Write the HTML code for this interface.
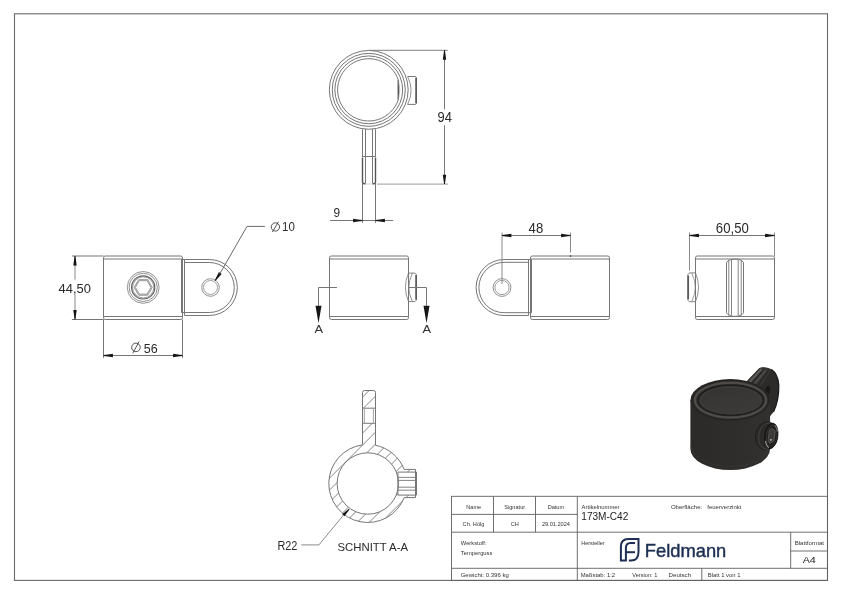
<!DOCTYPE html>
<html><head><meta charset="utf-8"><style>html,body{margin:0;padding:0;width:842px;height:595px;overflow:hidden;background:#fff} svg text{-webkit-font-smoothing:antialiased;} svg{will-change:transform}</style></head>
<body>
<svg width="842" height="595" viewBox="0 0 842 595" style="position:absolute;left:0;top:0" font-family="Liberation Sans, sans-serif">
<rect width="842" height="595" fill="#fff"/>
<rect x="14.5" y="13.8" width="813" height="566.6" fill="none" stroke="#6a6a6a" stroke-width="1.1"/>
<circle cx="368.75" cy="89.85" r="39.4" stroke="#767676" stroke-width="1.0" fill="none"/>
<circle cx="368.75" cy="89.85" r="36.5" stroke="#767676" stroke-width="1.0" fill="none"/>
<circle cx="368.75" cy="89.85" r="33.9" stroke="#767676" stroke-width="1.0" fill="none"/>
<path d="M398.3,80 A31.15,31.15 0 1 0 398.3,99.7" stroke="#767676" stroke-width="1.0" fill="none" />
<line x1="398.3" y1="80" x2="398.3" y2="99.7" stroke="#555" stroke-width="1.5"/>
<path d="M398.3,80 Q401.3,89.85 398.3,99.7" stroke="#999" stroke-width="0.7" fill="none" />
<path d="M407.6,76.5 L415.5,76.5 L416.3,77.6 L416.3,103.3 L415.5,104.4 L407.6,104.4" stroke="#767676" stroke-width="1.0" fill="none" />
<line x1="416.1" y1="77.8" x2="416.1" y2="103.2" stroke="#555" stroke-width="1.6"/>
<path d="M407.6,76.5 Q414.6,90.4 407.6,104.4" stroke="#767676" stroke-width="0.8" fill="none" />
<line x1="362.5" y1="129.3" x2="362.5" y2="156.5" stroke="#767676" stroke-width="1.0"/>
<line x1="375.5" y1="129.3" x2="375.5" y2="156.5" stroke="#767676" stroke-width="1.0"/>
<line x1="365.5" y1="129" x2="365.5" y2="183.2" stroke="#767676" stroke-width="1.0"/>
<line x1="372.5" y1="129" x2="372.5" y2="183.2" stroke="#767676" stroke-width="1.0"/>
<line x1="362" y1="156.5" x2="376" y2="156.5" stroke="#767676" stroke-width="1.0"/>
<path d="M362.5,157.6 L362.5,182.0 Q362.5,183.8 364.3,183.8 L365.5,183.8" stroke="#555" stroke-width="1.4" fill="none" />
<path d="M375.5,157.6 L375.5,182.0 Q375.5,183.8 373.7,183.8 L372.5,183.8" stroke="#555" stroke-width="1.4" fill="none" />
<line x1="365.5" y1="184" x2="372.5" y2="184" stroke="#bbb" stroke-width="0.6"/>
<line x1="362.5" y1="184" x2="362.5" y2="222.8" stroke="#767676" stroke-width="1.0"/>
<line x1="375.5" y1="184" x2="375.5" y2="222.8" stroke="#767676" stroke-width="1.0"/>
<line x1="330" y1="220.5" x2="393.2" y2="220.5" stroke="#767676" stroke-width="1.0"/>
<path d="M362.5,220.95 Q358.27,221.44 353.1,222.2 L353.1,218.8 Q358.27,219.56 362.5,220.05 Z" fill="#151515"/>
<path d="M375.5,220.05 Q379.73,219.56 384.9,218.8 L384.9,222.2 Q379.73,221.44 375.5,220.95 Z" fill="#151515"/>
<text x="333.6" y="216.7" font-size="13.4" fill="#2a2a2a" textLength="6.6" lengthAdjust="spacingAndGlyphs" >9</text>
<line x1="368.7" y1="50.3" x2="447.8" y2="50.3" stroke="#808080" stroke-width="1.0"/>
<line x1="377" y1="184.1" x2="448" y2="184.1" stroke="#9a9a9a" stroke-width="1.0"/>
<line x1="444.5" y1="50.3" x2="444.5" y2="109.4" stroke="#767676" stroke-width="1.0"/>
<line x1="444.5" y1="125.2" x2="444.5" y2="184.1" stroke="#767676" stroke-width="1.0"/>
<path d="M444.95,50.3 Q445.44,54.53 446.2,59.7 L442.8,59.7 Q443.56,54.53 444.05,50.3 Z" fill="#151515"/>
<path d="M444.05,184.1 Q443.56,179.87 442.8,174.7 L446.2,174.7 Q445.44,179.87 444.95,184.1 Z" fill="#151515"/>
<text x="437.6" y="121.8" font-size="13.8" fill="#2a2a2a" textLength="14.4" lengthAdjust="spacingAndGlyphs" >94</text>
<path d="M105.3,256 L180.7,256 Q182.5,256 182.5,257.8 L182.5,317.7 Q182.5,319.5 180.7,319.5 L105.3,319.5 Q103.5,319.5 103.5,317.7 L103.5,257.8 Q103.5,256 105.3,256 Z" stroke="#767676" stroke-width="1.0" fill="none" />
<line x1="103.5" y1="259" x2="182.5" y2="259" stroke="#767676" stroke-width="1.0"/>
<line x1="103.5" y1="316.5" x2="182.5" y2="316.5" stroke="#767676" stroke-width="1.0"/>
<line x1="181.5" y1="259" x2="181.5" y2="312.5" stroke="#767676" stroke-width="1.0"/>
<circle cx="143.2" cy="287.4" r="15.9" stroke="#767676" stroke-width="0.8" fill="none"/>
<circle cx="143.2" cy="287.4" r="14.1" stroke="#767676" stroke-width="0.8" fill="none"/>
<circle cx="143.2" cy="287.4" r="11.6" stroke="#606060" stroke-width="1.2" fill="none"/>
<circle cx="143.2" cy="287.4" r="10.6" stroke="#767676" stroke-width="0.75" fill="none"/>
<path d="M152.2,287.4 L147.7,295.19 L138.7,295.19 L134.2,287.4 L138.7,279.61 L147.7,279.61 Z" stroke="#767676" stroke-width="0.8" fill="none" />
<path d="M151,287.4 L147.1,294.15 L139.3,294.15 L135.4,287.4 L139.3,280.65 L147.1,280.65 Z" stroke="#767676" stroke-width="0.8" fill="none" />
<line x1="139.1" y1="280" x2="147.3" y2="280" stroke="#aaa" stroke-width="1.4"/>
<line x1="181.5" y1="260" x2="181.5" y2="312.5" stroke="#767676" stroke-width="1.0"/>
<line x1="184.5" y1="259.5" x2="184.5" y2="315.5" stroke="#767676" stroke-width="1.0"/>
<line x1="181.5" y1="259.5" x2="209.3" y2="259.5" stroke="#767676" stroke-width="1.0"/>
<line x1="184.5" y1="262.5" x2="209.3" y2="262.5" stroke="#767676" stroke-width="1.0"/>
<line x1="181.5" y1="312.5" x2="209.3" y2="312.5" stroke="#767676" stroke-width="1.0"/>
<line x1="184.5" y1="315.5" x2="209.3" y2="315.5" stroke="#767676" stroke-width="1.0"/>
<path d="M209.3,259.5 A28.0,28.0 0 0 1 209.3,315.5" stroke="#767676" stroke-width="1.0" fill="none" />
<path d="M209.3,262.5 A25.0,25.0 0 0 1 209.3,312.5" stroke="#767676" stroke-width="1.0" fill="none" />
<circle cx="210.5" cy="287.5" r="8.8" stroke="#767676" stroke-width="0.8" fill="none"/>
<circle cx="210.5" cy="287.5" r="7" stroke="#767676" stroke-width="0.7" fill="none"/>
<line x1="71.9" y1="256" x2="103.5" y2="256" stroke="#767676" stroke-width="1.0"/>
<line x1="71.9" y1="319.5" x2="103.5" y2="319.5" stroke="#767676" stroke-width="1.0"/>
<line x1="75" y1="256" x2="75" y2="279.6" stroke="#8a8a8a" stroke-width="1.0"/>
<line x1="75" y1="294.7" x2="75" y2="319.5" stroke="#8a8a8a" stroke-width="1.0"/>
<path d="M75.45,256 Q75.94,260.23 76.7,265.4 L73.3,265.4 Q74.06,260.23 74.55,256 Z" fill="#151515"/>
<path d="M74.55,319.5 Q74.06,315.27 73.3,310.1 L76.7,310.1 Q75.94,315.27 75.45,319.5 Z" fill="#151515"/>
<text x="58.6" y="292.9" font-size="13.6" fill="#2a2a2a" textLength="32.4" lengthAdjust="spacingAndGlyphs" >44,50</text>
<line x1="103.5" y1="319.5" x2="103.5" y2="357.8" stroke="#767676" stroke-width="1.0"/>
<line x1="182.5" y1="319.5" x2="182.5" y2="357.8" stroke="#767676" stroke-width="1.0"/>
<line x1="103.5" y1="355.5" x2="182.5" y2="355.5" stroke="#767676" stroke-width="1.0"/>
<path d="M103.5,355.05 Q107.73,354.56 112.9,353.8 L112.9,357.2 Q107.73,356.44 103.5,355.95 Z" fill="#151515"/>
<path d="M182.5,355.95 Q178.27,356.44 173.1,357.2 L173.1,353.8 Q178.27,354.56 182.5,355.05 Z" fill="#151515"/>
<circle cx="135.95" cy="347.4" r="4.28" stroke="#333" stroke-width="0.85" fill="none"/>
<line x1="132.81" y1="353.3" x2="139.08" y2="341.5" stroke="#333" stroke-width="0.85"/>
<text x="143.7" y="352.9" font-size="13.6" fill="#2a2a2a" textLength="13.9" lengthAdjust="spacingAndGlyphs" >56</text>
<path d="M214.63,280.55 Q216.62,276.78 218.92,272.09 L221.72,274.01 Q218.17,277.84 215.37,281.05 Z" fill="#151515"/>
<path d="M219.6,274.2 L247,226.4 L264.9,226.4" stroke="#6a6a6a" stroke-width="1.0" fill="none" />
<circle cx="275.4" cy="226.95" r="4.14" stroke="#333" stroke-width="0.85" fill="none"/>
<line x1="272.36" y1="232" x2="278.44" y2="221.9" stroke="#333" stroke-width="0.85"/>
<text x="282.1" y="230.9" font-size="12" fill="#2a2a2a" textLength="12.8" lengthAdjust="spacingAndGlyphs" >10</text>
<path d="M331.3,256 L406.7,256 Q408.5,256 408.5,257.8 L408.5,317.7 Q408.5,319.5 406.7,319.5 L331.3,319.5 Q329.5,319.5 329.5,317.7 L329.5,257.8 Q329.5,256 331.3,256 Z" stroke="#767676" stroke-width="1.0" fill="none" />
<line x1="329.5" y1="259" x2="408.5" y2="259" stroke="#767676" stroke-width="1.0"/>
<line x1="329.5" y1="316.5" x2="408.5" y2="316.5" stroke="#767676" stroke-width="1.0"/>
<path d="M408.5,273.1 L415.0,273.1 L416.3,274.6 L416.3,300.1 L415.0,301.6 L408.5,301.6" stroke="#767676" stroke-width="0.9" fill="none" />
<line x1="416.1" y1="275" x2="416.1" y2="299.8" stroke="#555" stroke-width="1.6"/>
<path d="M408.5,273.1 Q402.3,287.3 408.5,301.6" stroke="#767676" stroke-width="0.8" fill="none" />
<path d="M412.4,273.3 Q405.2,287.3 412.4,301.4" stroke="#767676" stroke-width="0.8" fill="none" />
<line x1="318.6" y1="287.5" x2="337" y2="287.5" stroke="#767676" stroke-width="1.0"/>
<line x1="318.5" y1="287.5" x2="318.5" y2="305.7" stroke="#767676" stroke-width="1.0"/>
<line x1="408.5" y1="287.5" x2="426.5" y2="287.5" stroke="#767676" stroke-width="1.0"/>
<line x1="426.5" y1="287.5" x2="426.5" y2="305.7" stroke="#767676" stroke-width="1.0"/>
<path d="M318.5,323.3 L315.5,305.7 L321.5,305.7 Z" fill="#151515"/>
<path d="M426.5,323.3 L423.5,305.7 L429.5,305.7 Z" fill="#151515"/>
<text x="314.6" y="332.6" font-size="11" fill="#333" textLength="8.6" lengthAdjust="spacingAndGlyphs" >A</text>
<text x="422.6" y="332.6" font-size="11" fill="#333" textLength="8.6" lengthAdjust="spacingAndGlyphs" >A</text>
<path d="M532.3,256 L607.7,256 Q609.5,256 609.5,257.8 L609.5,317.7 Q609.5,319.5 607.7,319.5 L532.3,319.5 Q530.5,319.5 530.5,317.7 L530.5,257.8 Q530.5,256 532.3,256 Z" stroke="#767676" stroke-width="1.0" fill="none" />
<line x1="530.5" y1="259" x2="609.5" y2="259" stroke="#767676" stroke-width="1.0"/>
<line x1="530.5" y1="316.5" x2="609.5" y2="316.5" stroke="#767676" stroke-width="1.0"/>
<line x1="531.5" y1="260" x2="531.5" y2="312.7" stroke="#767676" stroke-width="1.0"/>
<line x1="528.5" y1="259.5" x2="528.5" y2="315.5" stroke="#767676" stroke-width="1.0"/>
<line x1="531.5" y1="259.5" x2="504.1" y2="259.5" stroke="#767676" stroke-width="1.0"/>
<line x1="528.5" y1="262.3" x2="504.1" y2="262.3" stroke="#767676" stroke-width="1.0"/>
<line x1="531.5" y1="312.7" x2="504.1" y2="312.7" stroke="#767676" stroke-width="1.0"/>
<line x1="528.5" y1="315.5" x2="504.1" y2="315.5" stroke="#767676" stroke-width="1.0"/>
<path d="M504.1,259.5 A28.0,28.0 0 0 0 504.1,315.5" stroke="#767676" stroke-width="1.0" fill="none" />
<path d="M504.1,262.3 A25.2,25.2 0 0 0 504.1,312.7" stroke="#767676" stroke-width="1.0" fill="none" />
<circle cx="502" cy="287.5" r="8.9" stroke="#767676" stroke-width="0.8" fill="none"/>
<circle cx="502" cy="287.5" r="7.1" stroke="#767676" stroke-width="0.7" fill="none"/>
<line x1="502" y1="232.6" x2="502" y2="284" stroke="#8a8a8a" stroke-width="1.0"/>
<line x1="570.5" y1="232.6" x2="570.5" y2="252.4" stroke="#8a8a8a" stroke-width="1.0"/>
<circle cx="570.5" cy="256" r="0.8" stroke="none" stroke-width="0" fill="#222"/>
<line x1="502" y1="235.5" x2="570.5" y2="235.5" stroke="#767676" stroke-width="1.0"/>
<path d="M502,235.05 Q506.23,234.56 511.4,233.8 L511.4,237.2 Q506.23,236.44 502,235.95 Z" fill="#151515"/>
<path d="M570.5,235.95 Q566.27,236.44 561.1,237.2 L561.1,233.8 Q566.27,234.56 570.5,235.05 Z" fill="#151515"/>
<text x="528.6" y="233" font-size="13.8" fill="#2a2a2a" textLength="14.6" lengthAdjust="spacingAndGlyphs" >48</text>
<path d="M697.3,256 L772.7,256 Q774.5,256 774.5,257.8 L774.5,317.7 Q774.5,319.5 772.7,319.5 L697.3,319.5 Q695.5,319.5 695.5,317.7 L695.5,257.8 Q695.5,256 697.3,256 Z" stroke="#767676" stroke-width="1.0" fill="none" />
<line x1="695.5" y1="259" x2="774.5" y2="259" stroke="#767676" stroke-width="1.0"/>
<line x1="695.5" y1="316.5" x2="774.5" y2="316.5" stroke="#767676" stroke-width="1.0"/>
<line x1="726.5" y1="262.5" x2="726.5" y2="312.8" stroke="#767676" stroke-width="1.0"/>
<line x1="743.5" y1="262.5" x2="743.5" y2="312.8" stroke="#767676" stroke-width="1.0"/>
<line x1="728.8" y1="260" x2="728.8" y2="315.5" stroke="#767676" stroke-width="0.9"/>
<line x1="731.5" y1="260" x2="731.5" y2="315.5" stroke="#767676" stroke-width="0.9"/>
<line x1="738.2" y1="260" x2="738.2" y2="315.5" stroke="#767676" stroke-width="0.9"/>
<line x1="741.2" y1="260" x2="741.2" y2="315.5" stroke="#767676" stroke-width="0.9"/>
<path d="M726.5,262.5 Q728.5,259.2 735,259 Q741.5,259.2 743.5,262.5" stroke="#767676" stroke-width="1.0" fill="none" />
<path d="M726.5,312.8 Q728.5,316.2 735,316.4 Q741.5,316.2 743.5,312.8" stroke="#767676" stroke-width="1.0" fill="none" />
<path d="M695.5,272.9 L689.3,272.9 L687.9,274.5 L687.9,300.1 L689.3,301.7 L695.5,301.7" stroke="#767676" stroke-width="0.9" fill="none" />
<line x1="688.2" y1="275.6" x2="688.2" y2="299.2" stroke="#5a5a5a" stroke-width="1.7"/>
<path d="M695.5,272.9 Q701.6,287.3 695.5,301.7" stroke="#767676" stroke-width="0.8" fill="none" />
<path d="M691.8,273.2 Q698.8,287.3 691.8,301.4" stroke="#767676" stroke-width="0.7" fill="none" />
<line x1="689.5" y1="232.6" x2="689.5" y2="270.5" stroke="#8a8a8a" stroke-width="1.0"/>
<line x1="774.5" y1="232.6" x2="774.5" y2="256" stroke="#8a8a8a" stroke-width="1.0"/>
<line x1="689.5" y1="235.5" x2="774.5" y2="235.5" stroke="#767676" stroke-width="1.0"/>
<path d="M689.5,235.05 Q693.73,234.56 698.9,233.8 L698.9,237.2 Q693.73,236.44 689.5,235.95 Z" fill="#151515"/>
<path d="M774.5,235.95 Q770.27,236.44 765.1,237.2 L765.1,233.8 Q770.27,234.56 774.5,235.05 Z" fill="#151515"/>
<text x="715.8" y="232.9" font-size="14.3" fill="#2a2a2a" textLength="33" lengthAdjust="spacingAndGlyphs" >60,50</text>
<clipPath id="sec"><path clip-rule="evenodd" d="M362.5,444.86 L362.5,392.5 Q362.5,390.5 364.5,390.5 L373.5,390.5 Q375.5,390.5 375.5,392.5 L375.5,445.27 A39.0,39.0 0 0 1 404.16,469.4 L415.5,469.4 L415.5,497.6 L404.16,497.6 A39.0,39.0 0 1 1 362.5,444.86 Z M398.5,483.5 A30.7,30.7 0 1 0 337.1,483.5 A30.7,30.7 0 1 0 398.5,483.5 Z M362.5,408.2 L375.5,408.2 L375.5,423.3 L362.5,423.3 Z M397.9,472.1 L416.5,472.1 L416.5,495.1 L397.9,495.1 Z"/></clipPath>
<path d="M320,319.6 L430,209.6 M320,331.6 L430,221.6 M320,343.6 L430,233.6 M320,355.6 L430,245.6 M320,367.6 L430,257.6 M320,379.6 L430,269.6 M320,391.6 L430,281.6 M320,403.6 L430,293.6 M320,415.6 L430,305.6 M320,427.6 L430,317.6 M320,439.6 L430,329.6 M320,451.6 L430,341.6 M320,463.6 L430,353.6 M320,475.6 L430,365.6 M320,487.6 L430,377.6 M320,499.6 L430,389.6 M320,511.6 L430,401.6 M320,523.6 L430,413.6 M320,535.6 L430,425.6 M320,547.6 L430,437.6 M320,559.6 L430,449.6 M320,571.6 L430,461.6 M320,583.6 L430,473.6 M320,595.6 L430,485.6 M320,607.6 L430,497.6 M320,619.6 L430,509.6 M320,631.6 L430,521.6 M320,643.6 L430,533.6 M320,655.6 L430,545.6 M320,667.6 L430,557.6 M320,679.6 L430,569.6 M320,691.6 L430,581.6 M320,703.6 L430,593.6 M320,715.6 L430,605.6 M320,727.6 L430,617.6 M320,739.6 L430,629.6 M320,751.6 L430,641.6 M320,763.6 L430,653.6 M320,775.6 L430,665.6 M320,787.6 L430,677.6" stroke="#767676" stroke-width="0.9" fill="none" clip-path="url(#sec)"/>
<path d="M362.5,444.86 L362.5,392.5 Q362.5,390.5 364.5,390.5 L373.5,390.5 Q375.5,390.5 375.5,392.5 L375.5,445.27 A39.0,39.0 0 0 1 404.16,469.4 L415.5,469.4 L415.5,497.6 L404.16,497.6 A39.0,39.0 0 1 1 362.5,444.86 Z" stroke="#767676" stroke-width="1.0" fill="none" />
<path d="M398.5,483.5 A30.7,30.7 0 1 0 337.1,483.5 A30.7,30.7 0 1 0 398.5,483.5 Z" stroke="#767676" stroke-width="1.0" fill="none" />
<line x1="362.5" y1="408.2" x2="375.5" y2="408.2" stroke="#767676" stroke-width="1.0"/>
<line x1="362.5" y1="423.3" x2="375.5" y2="423.3" stroke="#767676" stroke-width="1.0"/>
<line x1="364.4" y1="408.2" x2="364.4" y2="423.3" stroke="#aaa" stroke-width="1.1"/>
<line x1="373.4" y1="408.2" x2="373.4" y2="423.3" stroke="#aaa" stroke-width="1.1"/>
<path d="M397.9,472.1 L416.5,472.1 L416.5,495.1 L397.9,495.1 Z" stroke="#767676" stroke-width="1.0" fill="none" />
<line x1="397.9" y1="477.4" x2="416.5" y2="477.4" stroke="#767676" stroke-width="0.9"/>
<line x1="397.9" y1="480.4" x2="416.5" y2="480.4" stroke="#767676" stroke-width="0.9"/>
<line x1="397.9" y1="487.2" x2="416.5" y2="487.2" stroke="#767676" stroke-width="0.9"/>
<line x1="397.9" y1="490.2" x2="416.5" y2="490.2" stroke="#767676" stroke-width="0.9"/>
<path d="M349.49,509.38 Q347.15,512.43 344.4,516.27 L342.24,514.2 Q345.96,511.29 348.91,508.82 Z" fill="#151515"/>
<path d="M343.6,515.0 L318.9,544.9 L301.3,544.9" stroke="#8a8a8a" stroke-width="1.0" fill="none" />
<text x="277.4" y="550" font-size="12" fill="#2a2a2a" textLength="20" lengthAdjust="spacingAndGlyphs" >R22</text>
<text x="337.5" y="550.8" font-size="11.8" fill="#2a2a2a" textLength="70.5" lengthAdjust="spacingAndGlyphs" >SCHNITT A-A</text>
<g id="iso">
<defs><linearGradient id="bodyg" x1="0" x2="1" y1="0" y2="0"><stop offset="0" stop-color="#2b2a29"/><stop offset="0.5" stop-color="#2e2d2b"/><stop offset="1" stop-color="#33312f"/></linearGradient><linearGradient id="innerg" x1="0" x2="1" y1="0" y2="0"><stop offset="0" stop-color="#2f2e2d"/><stop offset="0.55" stop-color="#363534"/><stop offset="1" stop-color="#2f2e2d"/></linearGradient></defs>
<path d="M746.8,381.2 L759.5,367.9 Q765,366.3 771.5,369.3 Q778,373.8 778.8,385 Q779.2,400 773.5,412 L767,420 L754,400 Z" fill="#2c2b2a"/>
<path d="M746.8,381.2 L759.5,367.9 Q765,366.6 771.5,369.4 L760,388.5 Z" fill="#353433"/>
<path d="M749.6,382.0 L761.6,369.0" stroke="#5c5a58" stroke-width="1.9" fill="none"/>
<path d="M754.6,383.6 L765.8,370.4" stroke="#4f4d4b" stroke-width="1.7" fill="none"/>
<path d="M752.2,382.9 L763.8,369.6 M757.6,385.6 L768.6,370.2" stroke="#1f1e1d" stroke-width="0.9" fill="none"/>
<path d="M771.5,369.4 Q778,373.8 778.8,385 Q779.2,400 773.5,412" stroke="#1a1918" stroke-width="1.2" fill="none"/>
<ellipse cx="767.6" cy="390.5" rx="2.3" ry="4.8" fill="#191817" transform="rotate(12 767.6 390.5)"/>
<path d="M690.4,400 L690.4,449 A39.85,21 0 0 0 770.1,449 L770.1,400 Z" fill="url(#bodyg)"/>
<path d="M690.8,446 A39.5,22 0 0 0 769.6,446" stroke="#393736" stroke-width="0.7" fill="none"/>
<defs><linearGradient id="openg" x1="0" x2="0.6" y1="0" y2="1"><stop offset="0" stop-color="#333130"/><stop offset="0.5" stop-color="#393735"/><stop offset="1" stop-color="#3c3a38"/></linearGradient></defs>
<ellipse cx="730.3" cy="400" rx="39.85" ry="20.9" fill="#2a2928"/>
<ellipse cx="730.3" cy="400.1" rx="38.6" ry="19.8" fill="none" stroke="#222120" stroke-width="0.8"/>
<ellipse cx="730.5" cy="400.1" rx="35.6" ry="17.4" fill="none" stroke="#474442" stroke-width="2.6"/>
<ellipse cx="730.5" cy="400.1" rx="35.6" ry="17.4" fill="none" stroke="#55524f" stroke-width="0.9"/>
<ellipse cx="730.8" cy="400.2" rx="32.4" ry="14.9" fill="url(#openg)" stroke="#1c1b1a" stroke-width="1.2"/>
<ellipse cx="730.9" cy="400.4" rx="30.6" ry="13.4" fill="none" stroke="#3f3c3a" stroke-width="1.6" opacity="0.8"/>
<g transform="rotate(8 766.5 436)">
<ellipse cx="766.5" cy="436" rx="11.0" ry="14.2" fill="#2b2a29" stroke="#201f1e" stroke-width="0.9"/>
<ellipse cx="768.0" cy="436" rx="9.3" ry="13.3" fill="none" stroke="#454342" stroke-width="0.9"/>
<ellipse cx="771.2" cy="435.2" rx="6.6" ry="12.8" fill="#1f1e1d" stroke="#111" stroke-width="0.8"/>
<ellipse cx="771.6" cy="435.2" rx="5.2" ry="10.4" fill="none" stroke="#4a4847" stroke-width="0.9" stroke-dasharray="1.2 1"/>
<path d="M770.8,427.5 L774.5,430 L774.5,440 L770.8,443 L768.6,440 L768.6,430 Z" fill="#3b3a39" stroke="#6e6c6a" stroke-width="0.6"/>
<path d="M766.2,441 Q767.5,446 770.5,447.2" stroke="#a8a6a4" stroke-width="1.0" fill="none"/>
<path d="M773.2,424.2 Q776,426.5 776.8,430" stroke="#8a8886" stroke-width="0.9" fill="none"/>
<circle cx="771.4" cy="439.2" r="0.9" fill="#c8c6c4"/>
</g>
</g>
<rect x="451.5" y="496.3" width="376" height="84.1" fill="none" stroke="#606060" stroke-width="0.9"/>
<line x1="451.5" y1="532.2" x2="827.5" y2="532.2" stroke="#606060" stroke-width="0.9"/>
<line x1="451.5" y1="568.3" x2="827.5" y2="568.3" stroke="#606060" stroke-width="0.9"/>
<line x1="451.5" y1="514.4" x2="577.3" y2="514.4" stroke="#606060" stroke-width="0.9"/>
<line x1="493.5" y1="496.3" x2="493.5" y2="532.2" stroke="#606060" stroke-width="0.9"/>
<line x1="535.5" y1="496.3" x2="535.5" y2="532.2" stroke="#606060" stroke-width="0.9"/>
<line x1="577.3" y1="496.3" x2="577.3" y2="580.4" stroke="#606060" stroke-width="0.9"/>
<line x1="701.8" y1="568.3" x2="701.8" y2="580.4" stroke="#606060" stroke-width="0.9"/>
<line x1="790.7" y1="532.2" x2="790.7" y2="568.3" stroke="#606060" stroke-width="0.9"/>
<line x1="790.7" y1="551" x2="827.5" y2="551" stroke="#606060" stroke-width="0.9"/>
<text x="473.7" y="509" font-size="5.6" fill="#333" text-anchor="middle" >Name</text>
<text x="514.7" y="509" font-size="5.6" fill="#333" text-anchor="middle" >Signatur</text>
<text x="555.9" y="509" font-size="5.6" fill="#333" text-anchor="middle" >Datum</text>
<text x="473.5" y="526.3" font-size="5.6" fill="#333" text-anchor="middle" >Ch. Hölg</text>
<text x="514.7" y="526.3" font-size="5.6" fill="#333" text-anchor="middle" >CH</text>
<text x="555.9" y="526.3" font-size="5.6" fill="#333" text-anchor="middle" >29.01.2024</text>
<text x="581.6" y="509" font-size="5.6" fill="#333" textLength="38" lengthAdjust="spacingAndGlyphs" >Artikelnummer</text>
<text x="581.3" y="519.9" font-size="10" fill="#222" textLength="47" lengthAdjust="spacingAndGlyphs" >173M-C42</text>
<text x="670.9" y="509" font-size="5.6" fill="#333" textLength="31.3" lengthAdjust="spacingAndGlyphs" >Oberfläche:</text>
<text x="707.3" y="509" font-size="5.6" fill="#333" textLength="34.1" lengthAdjust="spacingAndGlyphs" >feuerverzinkt</text>
<text x="460.8" y="545" font-size="5.6" fill="#333" textLength="25.8" lengthAdjust="spacingAndGlyphs" >Werkstoff:</text>
<text x="460.8" y="555" font-size="5.6" fill="#333" textLength="31.6" lengthAdjust="spacingAndGlyphs" >Temperguss</text>
<text x="581.2" y="545" font-size="5.6" fill="#333" textLength="23.5" lengthAdjust="spacingAndGlyphs" >Hersteller</text>
<text x="794.7" y="544.7" font-size="5.6" fill="#333" textLength="29.3" lengthAdjust="spacingAndGlyphs" >Blattformat</text>
<text x="802.7" y="562.7" font-size="9.6" fill="#222" textLength="13.2" lengthAdjust="spacingAndGlyphs" >A4</text>
<text x="460.7" y="577" font-size="5.6" fill="#333" textLength="48.1" lengthAdjust="spacingAndGlyphs" >Gewicht: 0.396 kg</text>
<text x="580.7" y="577" font-size="5.6" fill="#333" textLength="34.4" lengthAdjust="spacingAndGlyphs" >Maßstab: 1:2</text>
<text x="632.2" y="577" font-size="5.6" fill="#333" textLength="25.2" lengthAdjust="spacingAndGlyphs" >Version: 1</text>
<text x="668.6" y="577" font-size="5.6" fill="#333" textLength="22.5" lengthAdjust="spacingAndGlyphs" >Deutsch</text>
<text x="707.8" y="577" font-size="5.6" fill="#333" textLength="32.7" lengthAdjust="spacingAndGlyphs" >Blatt 1 von 1</text>
<path d="M628.8,560.6 L631,560.6 Q638.5,560.6 638.5,552 L638.5,539.1 L628.3,539.1 Q620.9,539.1 620.9,546.8 L620.9,560.6 L625.9,560.6 L625.9,548 Q625.9,542.9 630.5,542.9 L635,542.9" stroke="#1d2f52" stroke-width="2.0" fill="none" stroke-linejoin="miter"/>
<line x1="625.9" y1="552.2" x2="635" y2="552.2" stroke="#1d2f52" stroke-width="2.0"/>
<text x="644.8" y="557" font-size="18.4" fill="#1d2f52" textLength="81.5" lengthAdjust="spacingAndGlyphs" stroke="#1d2f52" stroke-width="0.45">Feldmann</text>
</svg>
</body></html>
